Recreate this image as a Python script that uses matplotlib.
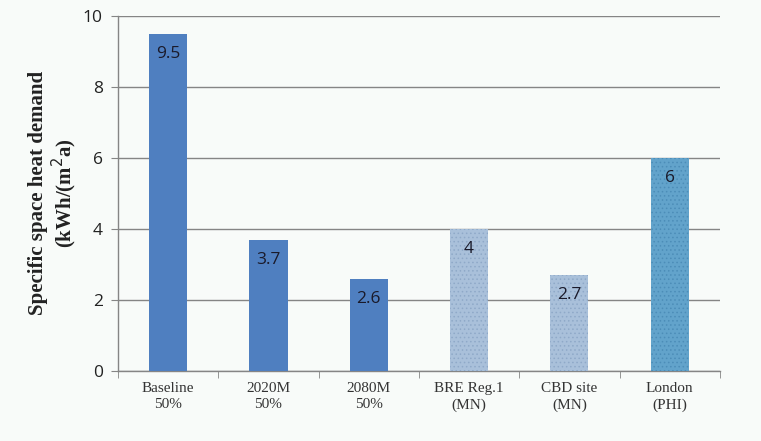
import matplotlib
matplotlib.use("Agg")
import matplotlib.pyplot as plt

categories = ["Baseline\n50%", "2020M\n50%", "2080M\n50%", "BRE Reg.1\n(MN)", "CBD site\n(MN)", "London\n(PHI)"]
values = [9.5, 3.7, 2.6, 4, 2.7, 6]
value_labels = ["9.5", "3.7", "2.6", "4", "2.7", "6"]
face_colors = ["#4F7FC0", "#4F7FC0", "#4F7FC0", "#A9C0DA", "#A9C0DA", "#62A3CB"]
hatch_colors = [None, None, None, "#8FA9C8", "#8FA9C8", "#4C8DB8"]
y_ticks = [0, 2, 4, 6, 8, 10]

bg = "#F8FBF9"
plt.rcParams["hatch.linewidth"] = 0.6
fig = plt.figure(figsize=(7.61, 4.41), dpi=100, facecolor=bg)
ax = fig.add_axes([0.155, 0.159, 0.791, 0.805], facecolor=bg)

x = list(range(len(categories)))
for xi, v, fc, hc in zip(x, values, face_colors, hatch_colors):
    ax.bar(xi, v, width=0.38, color=fc, edgecolor="none", zorder=3)
    if hc is not None:
        ax.bar(xi, v, width=0.38, fill=False, edgecolor=hc, hatch="....",
               linewidth=0, zorder=4)

for xi, v, lab in zip(x, values, value_labels):
    ax.text(xi, v - 0.35, lab, ha="center", va="top", fontsize=12.5,
            family="Open Sans", color="#1A1A2A", zorder=5)

ax.set_xlim(-0.5, len(categories) - 0.5)
ax.set_ylim(0, 10)
ax.set_yticks(y_ticks)
ax.set_yticklabels([str(t) for t in y_ticks], family="Open Sans", fontsize=12.5, color="#222222")
ax.yaxis.grid(True, color="#858585", linewidth=1.0, zorder=0)
ax.set_axisbelow(True)

ax.set_xticks(x)
ax.set_xticklabels(categories, family="Liberation Serif", fontsize=11, color="#333333",
                   linespacing=1.35)
ax.tick_params(axis="x", length=0, pad=8)
ax.set_xticks([i - 0.5 for i in range(len(categories) + 1)], minor=True)
ax.tick_params(axis="x", which="minor", length=5, color="#858585", direction="out")
ax.tick_params(axis="y", length=5, color="#858585", direction="out", pad=6)

for side in ["top", "right"]:
    ax.spines[side].set_visible(False)
for side in ["left", "bottom"]:
    ax.spines[side].set_color("#858585")
    ax.spines[side].set_linewidth(1.0)

ax.set_ylabel("Specific space heat demand\n(kWh/(m$^2$a)", family="Liberation Serif",
              fontsize=15, fontweight="bold", color="#222222", labelpad=3, linespacing=1.05)

fig.savefig("out.png", dpi=100, facecolor=bg)
